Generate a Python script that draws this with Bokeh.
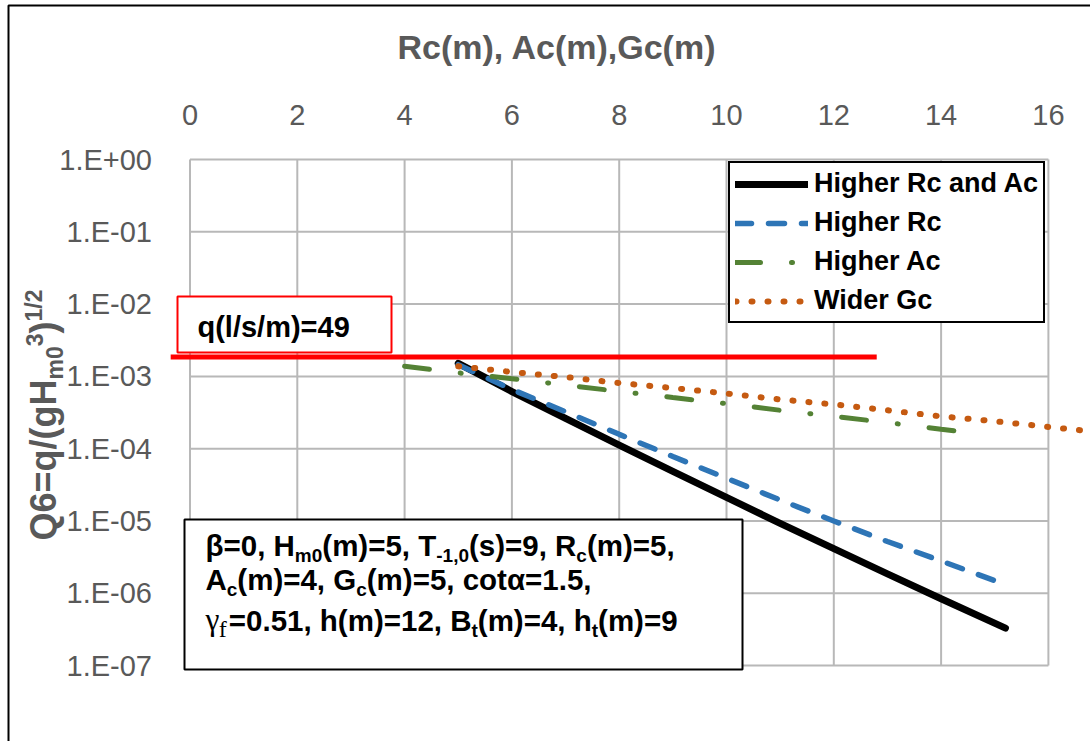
import json
import math
from bokeh.plotting import figure
from bokeh.models import (Range1d, FixedTicker, CustomJSTickFormatter, Legend, LegendItem,
                          Label, BoxAnnotation)
from bokeh.embed import file_html
from bokeh.resources import INLINE

# ---------------- data ----------------
x_rc_ac = [5, 6, 7, 8, 9, 10, 11, 12, 13, 14, 15.2]
q_rc_ac = [1.51e-3, 6.17e-4, 2.62e-4, 1.12e-4, 4.85e-5, 2.12e-5, 9.3e-6, 4.15e-6, 1.86e-6, 8.4e-7, 3.3e-7]

x_rc = [5, 6, 7, 8, 9, 10, 11, 12, 13, 14, 15.2]
q_rc = [1.45e-3, 6.6e-4, 3.24e-4, 1.58e-4, 7.8e-5, 3.9e-5, 1.95e-5, 1.0e-5, 5.2e-6, 2.8e-6, 1.32e-6]

x_ac = [4, 5, 6, 7, 8, 9, 10, 11, 12, 13, 14, 14.8]
q_ac = [1.38e-3, 1.12e-3, 9.3e-4, 7.6e-4, 6.2e-4, 5.1e-4, 4.2e-4, 3.4e-4, 2.8e-4, 2.3e-4, 1.86e-4, 1.58e-4]

x_gc = [5, 6, 7, 8, 9, 10, 11, 12, 13, 14, 15, 16, 16.8]
q_gc = [1.38e-3, 1.15e-3, 9.8e-4, 8.1e-4, 6.9e-4, 5.8e-4, 4.8e-4, 4.1e-4, 3.4e-4, 2.8e-4, 2.4e-4, 2.0e-4, 1.74e-4]

series_names = ["Higher Rc and Ac", "Higher Rc", "Higher Ac", "Wider Gc"]

limit_q = 1.85e-3            # q(l/s/m)=49 limit line
limit_x = [-0.36, 12.8]
limit_text = "q(l/s/m)=49"

x_ticks = [0, 2, 4, 6, 8, 10, 12, 14, 16]
y_ticks = [1e0, 1e-1, 1e-2, 1e-3, 1e-4, 1e-5, 1e-6, 1e-7]
y_tick_labels = ["1.E+00", "1.E-01", "1.E-02", "1.E-03", "1.E-04", "1.E-05", "1.E-06", "1.E-07"]

x_title = "Rc(m), Ac(m),Gc(m)"
# y title pieces: (text, role)
y_title = [("Q6=q/(gH", "n"), ("m0", "sub"), ("3", "sup"), (")", "n"), ("1/2", "sup")]
# parameter box lines: (text, role)
param_lines = [
    [("β=0, H", "n"), ("m0", "sub"), ("(m)=5, T", "n"), ("-1,0", "sub"),
     ("(s)=9, R", "n"), ("c", "sub"), ("(m)=5,", "n")],
    [("A", "n"), ("c", "sub"), ("(m)=4, G", "n"), ("c", "sub"), ("(m)=5, cotα=1.5,", "n")],
    [("γ", "nserif"), ("f", "subserif"), ("=0.51, h(m)=12, B", "n"), ("t", "sub"),
     ("(m)=4, h", "n"), ("t", "sub"), ("(m)=9", "n")],
]

# ---------------- styling / layout ----------------
FONT = "Liberation Sans"
GRAY = "#595959"
GRID = "#b8b8b8"
C_BLACK, C_BLUE, C_GREEN, C_ORANGE = "#000000", "#2e75b6", "#548235", "#c55a11"

W, H = 1090, 741
X0, KX = 189.5, 53.65     # page px of x=0, px per x unit
Y0, KY = 159.0, 72.3      # page px of 1E+00, px per decade

# approximate advance widths (em), for laying out sub/superscripts
AB = {' ': .278, '(': .333, ')': .333, ',': .278, '.': .278, '=': .584, '-': .333, '/': .278,
      'A': .722, 'B': .722, 'G': .778, 'H': .722, 'R': .722, 'T': .611, 'Q': .778,
      'c': .556, 'm': .889, 's': .556, 'h': .611, 'o': .611, 't': .333, 'q': .611, 'g': .611,
      'β': .611, 'α': .611}
SERIF_W = {'γ': .42, 'f': .42}
def tw(s, size, serif=False):
    tab = SERIF_W if serif else AB
    return sum(tab.get(ch, .556) for ch in s) * size

# screen coords (frame == whole canvas): origin bottom-left, y up
def sx(px):
    return px
def sy(py):
    return H - py

def text_label(px, py, text, size, color, bold=True, font=FONT, vertical=False):
    """Place text with its alphabetic baseline at page point (px, py)."""
    corr = 0.4 * size
    if vertical:
        px -= corr
    else:
        py -= corr
    return Label(x=sx(px), y=sy(py), x_units="screen", y_units="screen", text=text,
                 angle=math.pi / 2 if vertical else 0, text_font=font,
                 text_font_style="bold" if bold else "normal",
                 text_font_size="%gpx" % size, text_color=color,
                 text_baseline="alphabetic", text_align="left")

p = figure(width=W, height=H, output_backend="svg", toolbar_location=None,
           y_axis_type="log", x_axis_location="above",
           x_range=Range1d(-X0 / KX, (W - X0) / KX),
           y_range=Range1d(10 ** (-(H - Y0) / KY), 10 ** (Y0 / KY)),
           min_border=0)
p.outline_line_color = None
p.xgrid.visible = False
p.ygrid.visible = False
p.background_fill_color = "white"
p.border_fill_color = "white"

# axes, drawn at the edges of the tick grid
xa = p.xaxis[0]
xa.ticker = FixedTicker(ticks=x_ticks)
xa.fixed_location = max(y_ticks)
ya = p.yaxis[0]
ya.ticker = FixedTicker(ticks=y_ticks)
ya.fixed_location = min(x_ticks)
lab_map = {str(round(math.log10(t))): l for t, l in zip(y_ticks, y_tick_labels)}
ya.formatter = CustomJSTickFormatter(code="const m = %s; const e = Math.round(Math.log10(tick)); return m[String(e)] || '';" % json.dumps(lab_map))
for ax, st in ((xa, 29), (ya, 32)):
    ax.axis_line_color = None
    ax.major_tick_line_color = None
    ax.minor_tick_line_color = None
    ax.major_label_text_font = FONT
    ax.major_label_text_font_size = "29px"
    ax.major_label_text_color = GRAY
    ax.major_label_standoff = st

# gridlines restricted to the tick span
p.segment(x0=x_ticks, x1=x_ticks, y0=[min(y_ticks)] * len(x_ticks), y1=[max(y_ticks)] * len(x_ticks),
          line_color=GRID, line_width=2)
p.segment(x0=[min(x_ticks)] * len(y_ticks), x1=[max(x_ticks)] * len(y_ticks), y0=y_ticks, y1=y_ticks,
          line_color=GRID, line_width=2)

# limit line
p.line(limit_x, [limit_q, limit_q], line_color="#ff0000", line_width=5)

# series
r1 = p.line(x_rc_ac, q_rc_ac, line_color=C_BLACK, line_width=7, line_cap="round", line_join="round")
r2 = p.line(x_rc, q_rc, line_color=C_BLUE, line_width=5.5, line_dash="16 17", line_cap="round")
r3 = p.line(x_ac, q_ac, line_color=C_GREEN, line_width=5, line_dash="25 31 1 31", line_cap="round")
r4 = p.line(x_gc, q_gc, line_color=C_ORANGE, line_width=6, line_dash="1 15", line_cap="round")

legend = Legend(items=[LegendItem(label=n, renderers=[r]) for n, r in zip(series_names, [r1, r2, r3, r4])],
                location=(sx(728), sy(323)),
                label_text_font=FONT, label_text_font_style="bold", label_text_font_size="27px",
                label_text_color="black", glyph_width=73, glyph_height=30, label_height=30,
                label_standoff=6, spacing=8, padding=5, margin=0,
                border_line_color="black", border_line_width=2, border_line_alpha=1,
                background_fill_color="white", background_fill_alpha=1.0)
p.add_layout(legend)

def box(l, r, t, b, color, fill):
    return BoxAnnotation(left=sx(l), right=sx(r), top=sy(t), bottom=sy(b),
                         left_units="screen", right_units="screen", top_units="screen", bottom_units="screen",
                         fill_color="white", fill_alpha=1 if fill else 0,
                         line_color=color, line_alpha=1, line_width=2)

# outer chart border (left / top visible)
p.add_layout(box(8, 3000, 5, 3000, "black", False))

# x-axis title
p.add_layout(text_label(397, 60, x_title, 34, GRAY))

# y-axis title, rotated, composed of pieces
NS, SS = 36, 23
ycur = 540
for txt, role in y_title:
    size = NS if role == "n" else SS
    shift = {"n": 0, "sub": 7, "sup": -14}[role]
    p.add_layout(text_label(57 + shift, ycur, txt, size, GRAY, vertical=True))
    ycur -= tw(txt, size)

# limit label box
p.add_layout(box(177, 391, 296, 352, "#ff0000", True))
p.add_layout(text_label(197, 338, limit_text, 29, "black"))

# parameter box
p.add_layout(box(184, 742, 519, 669, "black", True))
MS, BS = 29.5, 19
baselines = [557, 591, 632]
for segs, base in zip(param_lines, baselines):
    xcur = 205
    for txt, role in segs:
        serif = "serif" in role
        sub = role.startswith("sub")
        size = (24 if serif else BS) if sub else (MS + 2 if serif else MS)
        p.add_layout(text_label(xcur, base + (6 if sub else 0), txt, size, "black",
                                bold=not serif, font="Liberation Serif" if serif else FONT))
        xcur += tw(txt, size, serif)

open("out.html", "w").write(file_html(p, INLINE))
